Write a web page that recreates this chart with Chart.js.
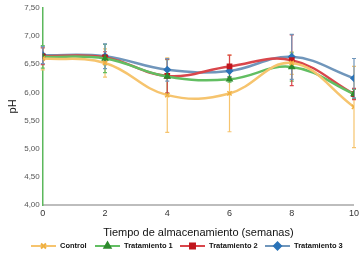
<!DOCTYPE html>
<html>
<head>
<meta charset="utf-8">
<script src="https://cdn.jsdelivr.net/npm/chart.js@4/dist/chart.umd.min.js"></script>
<style>
  html, body { margin: 0; padding: 0; background: #fff; }
  #wrap { width: 362px; height: 254px; }
</style>
</head>
<body>
<div id="wrap"><canvas id="chart" width="362" height="254"></canvas></div>
<script>
const semanas = [0, 2, 4, 6, 8, 10]

const control = [6.60, 6.52, 5.95, 5.98, 6.52, 5.74]
const controlErr = [0.20, 0.25, 0.66, 0.68, 0.20, 0.72]
const trat1 = [6.63, 6.60, 6.28, 6.23, 6.45, 5.97]
const trat1Err = [0.20, 0.25, 0.30, 0.05, 0.25, 0.08]
const trat2 = [6.64, 6.62, 6.29, 6.46, 6.57, 5.97]
const trat2Err = [0.15, 0.10, 0.30, 0.20, 0.45, 0.10]
const trat3 = [6.66, 6.64, 6.40, 6.38, 6.63, 6.25]
const trat3Err = [0.15, 0.22, 0.20, 0.10, 0.40, 0.35]

const series = [
  { label: 'Control', values: control, err: controlErr, color: '#f6c46e', marker: '#f0b040', point: 'crossRot' },
  { label: 'Tratamiento 1', values: trat1, err: trat1Err, color: '#62be62', marker: '#2e8b2e', point: 'triangle' },
  { label: 'Tratamiento 2', values: trat2, err: trat2Err, color: '#d9464b', marker: '#c0161d', point: 'rect' },
  { label: 'Tratamiento 3', values: trat3, err: trat3Err, color: '#7096bb', marker: '#2a73b8', point: 'rectRot' }
]

const errorBars = {
  id: 'errorBars',
  beforeDatasetsDraw(chart) {
    const ctx = chart.ctx
    const y = chart.scales.y
    chart.data.datasets.forEach((ds, i) => {
      const meta = chart.getDatasetMeta(i)
      ctx.save()
      ctx.strokeStyle = ds.borderColor
      ctx.lineWidth = 1.2
      meta.data.forEach((pt, j) => {
        const v = ds.data[j].y
        const e = ds.errors[j]
        const top = y.getPixelForValue(v + e)
        const bot = y.getPixelForValue(v - e)
        ctx.beginPath()
        ctx.moveTo(pt.x, top); ctx.lineTo(pt.x, bot)
        ctx.moveTo(pt.x - 2, top); ctx.lineTo(pt.x + 2, top)
        ctx.moveTo(pt.x - 2, bot); ctx.lineTo(pt.x + 2, bot)
        ctx.stroke()
      })
      ctx.restore()
    })
  }
}

// legend drawn by hand: line with marker in the middle, like the original
const lineLegend = {
  id: 'lineLegend',
  afterDraw(chart) {
    const ctx = chart.ctx
    const yPos = 246
    const starts = [31, 95, 180, 265]
    ctx.save()
    ctx.font = 'bold 7.5px "Liberation Sans", Arial, sans-serif'
    ctx.textBaseline = 'middle'
    chart.data.datasets.forEach((ds, i) => {
      const x0 = starts[i]
      ctx.strokeStyle = ds.borderColor
      ctx.lineWidth = 2
      ctx.beginPath()
      ctx.moveTo(x0, yPos); ctx.lineTo(x0 + 25, yPos)
      ctx.stroke()
      ctx.strokeStyle = ds.pointBorderColor
      ctx.fillStyle = ds.pointBackgroundColor
      Chart.helpers.drawPoint(ctx, { pointStyle: ds.pointStyle, radius: 3.5, borderWidth: 1.5 }, x0 + 12.5, yPos)
      ctx.fillStyle = '#111'
      ctx.fillText(ds.label, x0 + 29, yPos)
    })
    ctx.restore()
  }
}

const datasets = series.map(s => ({
  label: s.label,
  data: semanas.map((x, i) => ({ x: x, y: s.values[i] })),
  errors: s.err,
  borderColor: s.color,
  backgroundColor: s.color,
  pointBackgroundColor: s.marker,
  pointBorderColor: s.marker,
  pointStyle: s.point,
  pointRadius: 3,
  pointBorderWidth: 1.5,
  borderWidth: 2.5,
  tension: 0.4,
  fill: false
}))

new Chart(document.getElementById('chart'), {
  type: 'line',
  data: { datasets: datasets },
  options: {
    responsive: false,
    animation: false,
    layout: { padding: { top: 0, right: 8, bottom: 14, left: 4 } },
    plugins: {
      legend: { display: false },
      tooltip: { enabled: false }
    },
    scales: {
      x: {
        type: 'linear',
        min: 0, max: 10,
        grid: { display: false, drawTicks: false },
        border: { color: '#bdbdbd', width: 2 },
        ticks: { stepSize: 2, color: '#333', font: { size: 9, family: 'Liberation Sans' }, padding: 3 },
        title: { display: true, text: 'Tiempo de almacenamiento (semanas)', color: '#111',
                 font: { size: 11, family: 'Liberation Sans' }, padding: { top: 5, bottom: 0 } }
      },
      y: {
        min: 4, max: 7.5,
        grid: { display: false, drawTicks: false },
        border: { color: '#5cb85c', width: 1.5 },
        ticks: {
          stepSize: 0.5, color: '#555', font: { size: 8, family: 'Liberation Sans' }, padding: 3,
          callback: v => v.toFixed(2).replace('.', ',')
        },
        title: { display: true, text: 'pH', color: '#111', font: { size: 11, family: 'Liberation Sans' }, padding: 2 }
      }
    }
  },
  plugins: [errorBars, lineLegend]
})
</script>
</body>
</html>
